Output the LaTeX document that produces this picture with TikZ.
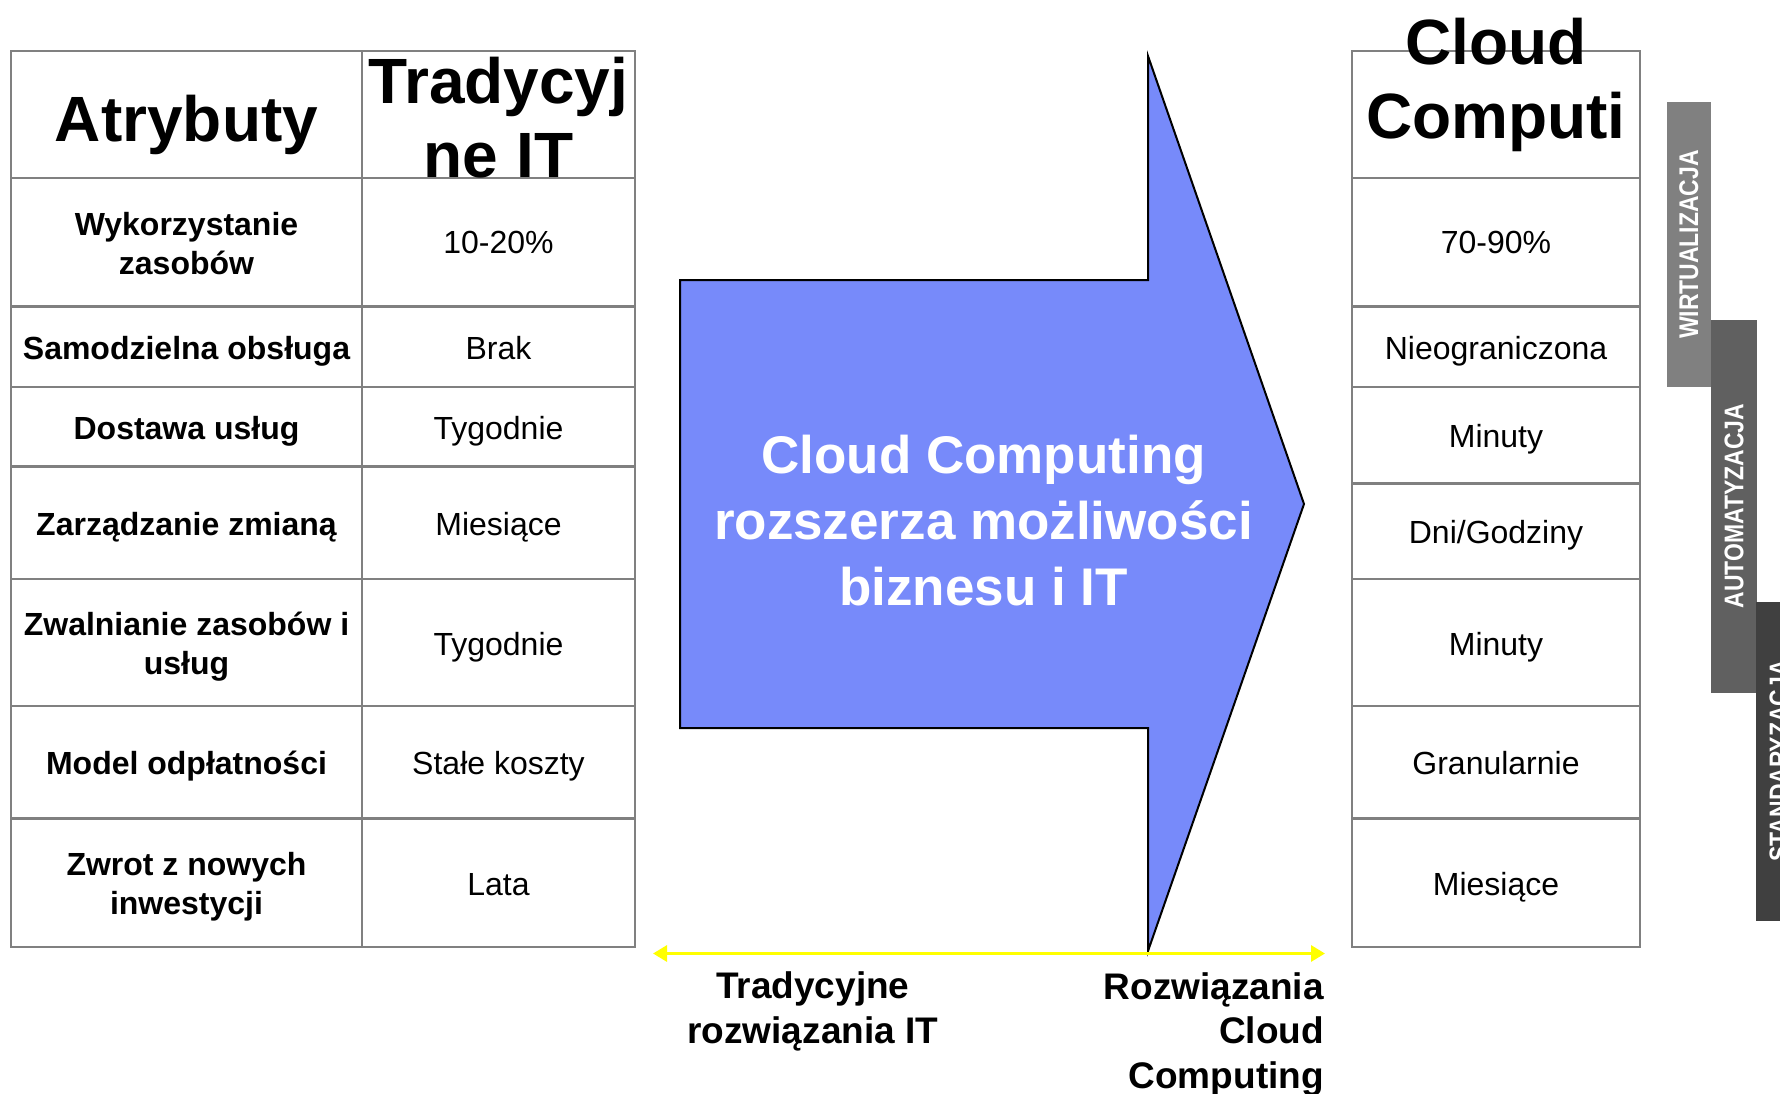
\documentclass[tikz,border=0pt]{standalone}
\usepackage{fontspec}
\setmainfont{Liberation Sans}
\newfontfamily\narrowfont[FakeStretch=0.85]{Liberation Sans Bold}
\usetikzlibrary{arrows.meta}
\definecolor{tabline}{RGB}{128,128,128}
\definecolor{arrowblue}{RGB}{119,138,250}
\definecolor{barA}{RGB}{128,128,128}
\definecolor{barB}{RGB}{96,96,96}
\definecolor{barC}{RGB}{64,64,64}
\definecolor{axisyellow}{RGB}{255,255,0}
\tikzset{
  grid/.style={draw=tabline, line width=2.5pt},
  hdr/.style={font=\fontsize{64}{74}\selectfont\bfseries, anchor=base, inner sep=0pt, align=center},
  attr/.style={font=\fontsize{32}{39}\selectfont\bfseries, anchor=base, inner sep=0pt, align=center},
  val/.style={font=\fontsize{32}{39}\selectfont, anchor=base, inner sep=0pt},
  big/.style={font=\fontsize{53}{66}\selectfont\bfseries, text=white, anchor=base, inner sep=0pt, align=center},
  foot/.style={font=\fontsize{37}{44.5}\selectfont\bfseries, anchor=base, inner sep=0pt},
  bartext/.style={font=\narrowfont\fontsize{27}{30}\selectfont, text=white, rotate=90, inner sep=0pt},
  bigarrow/.style={draw=black, line width=2pt, fill=arrowblue, line join=miter},
  axis/.style={draw=axisyellow, line width=3pt, {Triangle[length=14pt,width=16pt]}-{Triangle[length=14pt,width=16pt]}},
}
\begin{document}
\begin{tikzpicture}[x=1pt,y=-1pt]
\useasboundingbox (0,0) rectangle (1780,1094);
\clip (0,0) rectangle (1780,1094);

% ---- left table ----
\draw[grid] (11,51) rectangle (635,947);
\draw[grid] (362,51) -- (362,947);
\foreach \yy in {178,306.5,387,466.5,579,706,818.5}
  \draw[grid] (11,\yy) -- (635,\yy);

% ---- right table ----
\draw[grid] (1352,51) rectangle (1640,947);
\foreach \yy in {178,306.5,387,483.6,579,706,818.5}
  \draw[grid] (1352,\yy) -- (1640,\yy);

% headers (anchor base = baseline of last line)
\node[hdr] (hA) at (186.5,142) {Atrybuty};
\node[hdr] (hT) at (498.5,178) {Tradycyj\\ne IT};
\node[hdr] (hC) at (1496,139) {Cloud\\Computi};

% attributes
\node[attr] (a1) at (186.5,274) {Wykorzystanie\\zasobów};
\node[attr] (a2) at (186.5,359) {Samodzielna obsługa};
\node[attr] (a3) at (186.5,439) {Dostawa usług};
\node[attr] (a4) at (186.5,535) {Zarządzanie zmianą};
\node[attr] (a5) at (186.5,674) {Zwalnianie zasobów i\\usług};
\node[attr] (a6) at (186.5,774) {Model odpłatności};
\node[attr] (a7) at (186.5,914) {Zwrot z nowych\\inwestycji};

% traditional IT
\node[val] (t1) at (498.5,254) {10-20\%};
\node[val] (t2) at (498.5,359) {Brak};
\node[val] (t3) at (498.5,439) {Tygodnie};
\node[val] (t4) at (498.5,535) {Miesiące};
\node[val] (t5) at (498.5,655) {Tygodnie};
\node[val] (t6) at (498.5,774) {Stałe koszty};
\node[val] (t7) at (498.5,895) {Lata};

% cloud computing
\node[val] (c1) at (1496,254) {70-90\%};
\node[val] (c2) at (1496,359) {Nieograniczona};
\node[val] (c3) at (1496,447) {Minuty};
\node[val] (c4) at (1496,543) {Dni/Godziny};
\node[val] (c5) at (1496,655) {Minuty};
\node[val] (c6) at (1496,774) {Granularnie};
\node[val] (c7) at (1496,895) {Miesiące};

% ---- big arrow ----
\draw[bigarrow] (680,280) -- (1148,280) -- (1148,56) -- (1304,504) -- (1148,951) -- (1148,728) -- (680,728) -- cycle;
\node[big] (arrtext) at (983.5,605) {Cloud Computing\\rozszerza możliwości\\biznesu i IT};

% ---- axis ----
\coordinate (axL) at (653,953.5);
\coordinate (axR) at (1325,953.5);
\draw[axis] (axL) -- (axR);
\node[foot, align=center] (fl) at (812.8,1043) {Tradycyjne\\rozwiązania IT};
\node[foot, align=right, anchor=base east] (fr) at (1324,1088) {Rozwiązania\\Cloud\\Computing};

% ---- side bars ----
\fill[barA] (1666.5,102) rectangle (1711,387);
\fill[barB] (1711,320) rectangle (1757,692.5);
\fill[barC] (1756,601.7) rectangle (1802,920.6);
\node[bartext] (b1) at (1688.7,244.5) {WIRTUALIZACJA};
\node[bartext] (b2) at (1734,506) {AUTOMATYZACJA};
\node[bartext] (b3) at (1779,761) {STANDARYZACJA};
\end{tikzpicture}
\end{document}
